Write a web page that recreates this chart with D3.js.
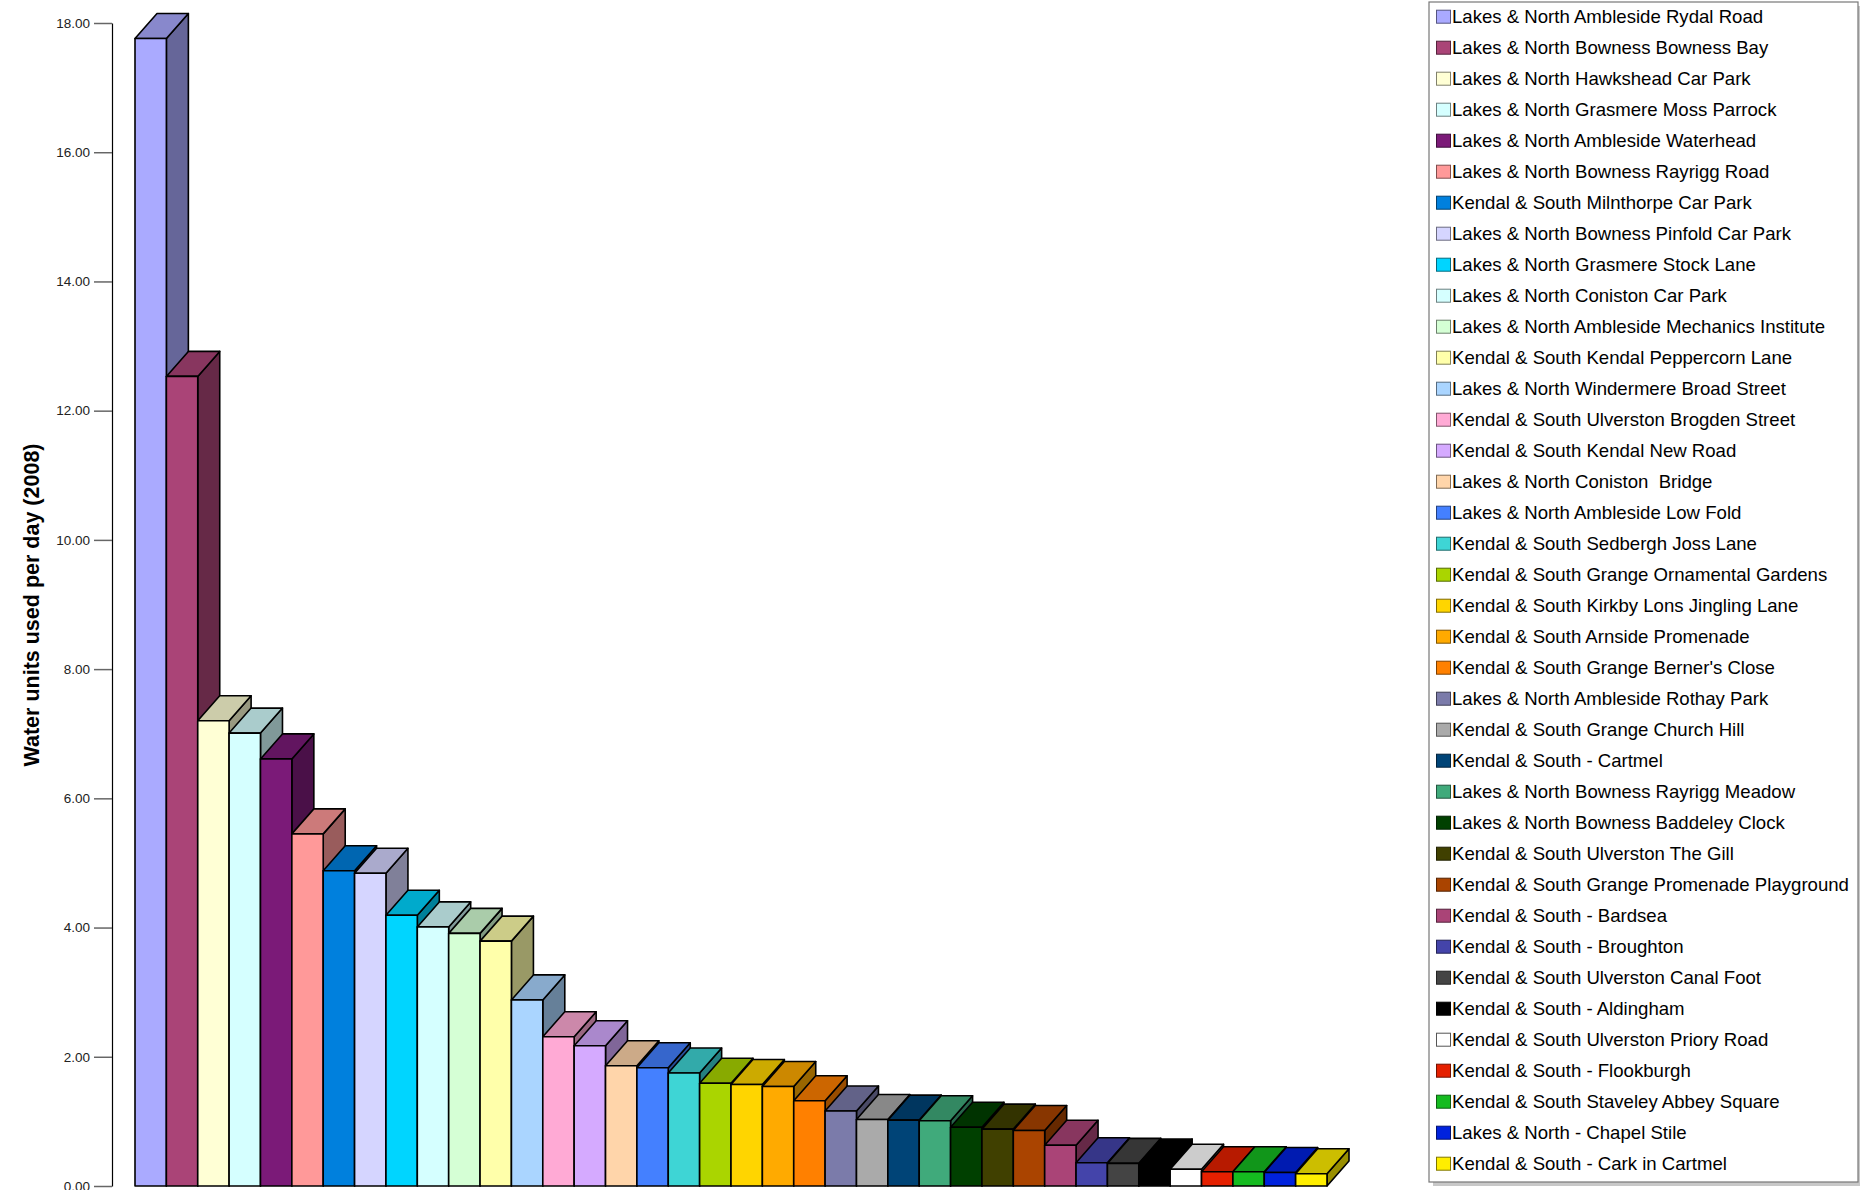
<!DOCTYPE html>
<html>
<head>
<meta charset="utf-8">
<script src="https://cdn.jsdelivr.net/npm/d3@7"></script>
<style>
  html, body { margin: 0; padding: 0; background: #fff; }
  svg { display: block; }
</style>
</head>
<body>
<svg id="chart" width="1860" height="1190"></svg>
<script>
const categories = [
  "Lakes & North Ambleside Rydal Road",
  "Lakes & North Bowness Bowness Bay",
  "Lakes & North Hawkshead Car Park",
  "Lakes & North Grasmere Moss Parrock",
  "Lakes & North Ambleside Waterhead",
  "Lakes & North Bowness Rayrigg Road",
  "Kendal & South Milnthorpe Car Park",
  "Lakes & North Bowness Pinfold Car Park",
  "Lakes & North Grasmere Stock Lane",
  "Lakes & North Coniston Car Park",
  "Lakes & North Ambleside Mechanics Institute",
  "Kendal & South Kendal Peppercorn Lane",
  "Lakes & North Windermere Broad Street",
  "Kendal & South Ulverston Brogden Street",
  "Kendal & South Kendal New Road",
  "Lakes & North Coniston  Bridge",
  "Lakes & North Ambleside Low Fold",
  "Kendal & South Sedbergh Joss Lane",
  "Kendal & South Grange Ornamental Gardens",
  "Kendal & South Kirkby Lons Jingling Lane",
  "Kendal & South Arnside Promenade",
  "Kendal & South Grange Berner's Close",
  "Lakes & North Ambleside Rothay Park",
  "Kendal & South Grange Church Hill",
  "Kendal & South - Cartmel",
  "Lakes & North Bowness Rayrigg Meadow",
  "Lakes & North Bowness Baddeley Clock",
  "Kendal & South Ulverston The Gill",
  "Kendal & South Grange Promenade Playground",
  "Kendal & South - Bardsea",
  "Kendal & South - Broughton",
  "Kendal & South Ulverston Canal Foot",
  "Kendal & South - Aldingham",
  "Kendal & South Ulverston Priory Road",
  "Kendal & South - Flookburgh",
  "Kendal & South Staveley Abbey Square",
  "Lakes & North - Chapel Stile",
  "Kendal & South - Cark in Cartmel"
];

const values = [
  17.76, 12.53, 7.20, 7.01, 6.61, 5.45, 4.88, 4.84, 4.19, 4.01,
  3.91, 3.79, 2.88, 2.31, 2.17, 1.86, 1.83, 1.75, 1.59, 1.57,
  1.54, 1.32, 1.16, 1.03, 1.02, 1.01, 0.91, 0.88, 0.86, 0.63,
  0.36, 0.35, 0.34, 0.26, 0.22, 0.22, 0.21, 0.19
];

const colors = [
  "#AAAAFF", "#AA4477", "#FFFFD5", "#D5FFFF", "#7B1A78", "#FF9999",
  "#0080DD", "#D5D5FF", "#00D5FF", "#D5FFFF", "#D5FFD5", "#FFFFAA",
  "#AAD5FF", "#FFAAD5", "#D5AAFF", "#FFD5AA", "#4480FF", "#3ED5D5",
  "#AAD500", "#FFD500", "#FFAA00", "#FF8000", "#7B7BAA", "#AAAAAA",
  "#004477", "#40AA7B", "#004000", "#404000", "#AA4400", "#AA4477",
  "#4444AA", "#444444", "#000000", "#FFFFFF", "#E52000", "#15BB20",
  "#0022DD", "#FFEE00"
];

const yTicks = [0, 2, 4, 6, 8, 10, 12, 14, 16, 18];
const yTitle = "Water units used per day (2008)";

const svg = d3.select("#chart");

const x = d3.scaleBand()
  .domain(d3.range(categories.length))
  .range([135, 1327])
  .padding(0);

const y = d3.scaleLinear()
  .domain([0, 18])
  .range([1186, 23]);

const DX = 22, DY = 25;

function shade(c, k) {
  const col = d3.rgb(c);
  return d3.rgb(col.r * k, col.g * k, col.b * k).formatHex();
}

// Y axis
const axis = d3.axisLeft(y)
  .tickValues(yTicks)
  .tickFormat(d3.format(".2f"))
  .tickSize(18)
  .tickSizeOuter(0)
  .tickPadding(4);

const gAxis = svg.append("g")
  .attr("transform", "translate(112,0)")
  .call(axis);
gAxis.select(".domain").attr("stroke", "#000").attr("stroke-width", 1.2);
gAxis.selectAll(".tick line").attr("stroke", "#666").attr("stroke-width", 1.5);
gAxis.selectAll(".tick text")
  .attr("fill", "#222")
  .style("font-family", "Liberation Sans, Arial, sans-serif")
  .style("font-size", "13.5px");

svg.append("text")
  .attr("transform", "translate(38.5,605) rotate(-90)")
  .attr("text-anchor", "middle")
  .style("font-family", "Liberation Sans, Arial, sans-serif")
  .style("font-weight", "bold")
  .style("font-size", "21.5px")
  .attr("fill", "#000")
  .text(yTitle);

// Bars (painter's order left to right)
const gBars = svg.append("g")
  .attr("stroke", "#000")
  .attr("stroke-width", 1.6)
  .attr("stroke-linejoin", "round");

values.forEach((v, i) => {
  const x0 = x(i), x1 = x(i) + x.bandwidth();
  const yt = y(v), yb = y(0);
  const g = gBars.append("g");
  g.append("path")
    .attr("d", `M${x1},${yb} L${x1 + DX},${yb - DY} L${x1 + DX},${yt - DY} L${x1},${yt} Z`)
    .attr("fill", shade(colors[i], 0.6));
  g.append("path")
    .attr("d", `M${x0},${yt} L${x0 + DX},${yt - DY} L${x1 + DX},${yt - DY} L${x1},${yt} Z`)
    .attr("fill", shade(colors[i], 0.8));
  g.append("rect")
    .attr("x", x0).attr("y", yt)
    .attr("width", x.bandwidth()).attr("height", yb - yt)
    .attr("fill", colors[i]);
});

// Legend
const lgX = 1429, lgY = 2, lgW = 429, lgH = 1180;
svg.append("rect")
  .attr("x", lgX + 4).attr("y", lgY + 4)
  .attr("width", lgW).attr("height", lgH)
  .attr("fill", "#c8c8c8");
svg.append("rect")
  .attr("x", lgX).attr("y", lgY)
  .attr("width", lgW).attr("height", lgH)
  .attr("fill", "#fff")
  .attr("stroke", "#777").attr("stroke-width", 1.2);

const rowH = 31.0, row0 = 16.7;
const lg = svg.append("g");
categories.forEach((name, i) => {
  const cy = row0 + i * rowH;
  lg.append("rect")
    .attr("x", 1436.5).attr("y", cy - 6.5)
    .attr("width", 14).attr("height", 13)
    .attr("fill", colors[i])
    .attr("stroke", i === 32 ? "#000" : shade(colors[i] === "#FFFFFF" ? "#AAAAAA" : colors[i], 0.5))
    .attr("stroke-width", 1);
  lg.append("text")
    .attr("x", 1452).attr("y", cy)
    .attr("dy", "0.36em")
    .style("font-family", "Liberation Sans, Arial, sans-serif")
    .style("font-size", "18.6px")
    .style("white-space", "pre")
    .attr("fill", "#000")
    .text(name);
});
</script>
</body>
</html>
